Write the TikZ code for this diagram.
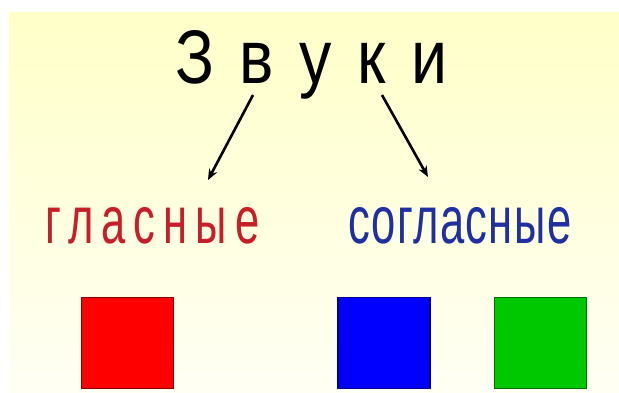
\documentclass[tikz,border=0pt]{standalone}
\usepackage{fontspec}
\setmainfont{Liberation Sans}
\newfontfamily\titlefont[FakeStretch=0.85,WordSpace=1.42]{Liberation Sans}
\newfontfamily\condfont[FakeStretch=0.65,LetterSpace=12]{Liberation Sans}
\newfontfamily\condfontb[FakeStretch=0.65,LetterSpace=2]{Liberation Sans}
\usetikzlibrary{arrows.meta}
\definecolor{bgtop}{HTML}{FFFFC8}
\definecolor{bgbot}{HTML}{FFFFF4}
\definecolor{vowel}{HTML}{C81E28}
\definecolor{cons}{HTML}{2030A0}
\definecolor{sqred}{HTML}{FF0000}
\definecolor{sqblue}{HTML}{0000FF}
\definecolor{sqgreen}{HTML}{00C800}
\tikzset{
  sq/.style={draw=#1!55!black, fill=#1, line width=1.5pt, minimum width=92pt, minimum height=91pt, inner sep=0pt},
  word/.style={inner sep=0pt},
  arr/.style={line width=2.6pt, -{Stealth[length=11pt,width=9pt]}}
}
\begin{document}
\begin{tikzpicture}[x=1pt,y=-1pt]
\useasboundingbox (0,0) rectangle (619,392);
\fill[white] (0,0) rectangle (619,392);
\shade[top color=bgtop, bottom color=bgbot] (9,12) rectangle (619,392);
\node[inner sep=0pt, anchor=base west, font=\titlefont\fontsize{76}{76}\selectfont] (title) at (175,83) {З в у к и};
\node[word, text=vowel, anchor=base west, font=\condfont\fontsize{67}{67}\selectfont] (vow) at (45,243) {гласные};
\node[word, text=cons, anchor=base west, font=\condfontb\fontsize{67}{67}\selectfont] (con) at (348,243) {согласные};
\coordinate (l1) at (253,95);
\coordinate (l2) at (208,180);
\coordinate (r1) at (382,95);
\coordinate (r2) at (428,177);
\draw[arr] (l1) -- (l2);
\draw[arr] (r1) -- (r2);
\node[sq=sqred] (red) at (127.5,343) {};
\node[sq=sqblue] (blue) at (384,343) {};
\node[sq=sqgreen] (green) at (540.5,343) {};
\end{tikzpicture}
\end{document}
